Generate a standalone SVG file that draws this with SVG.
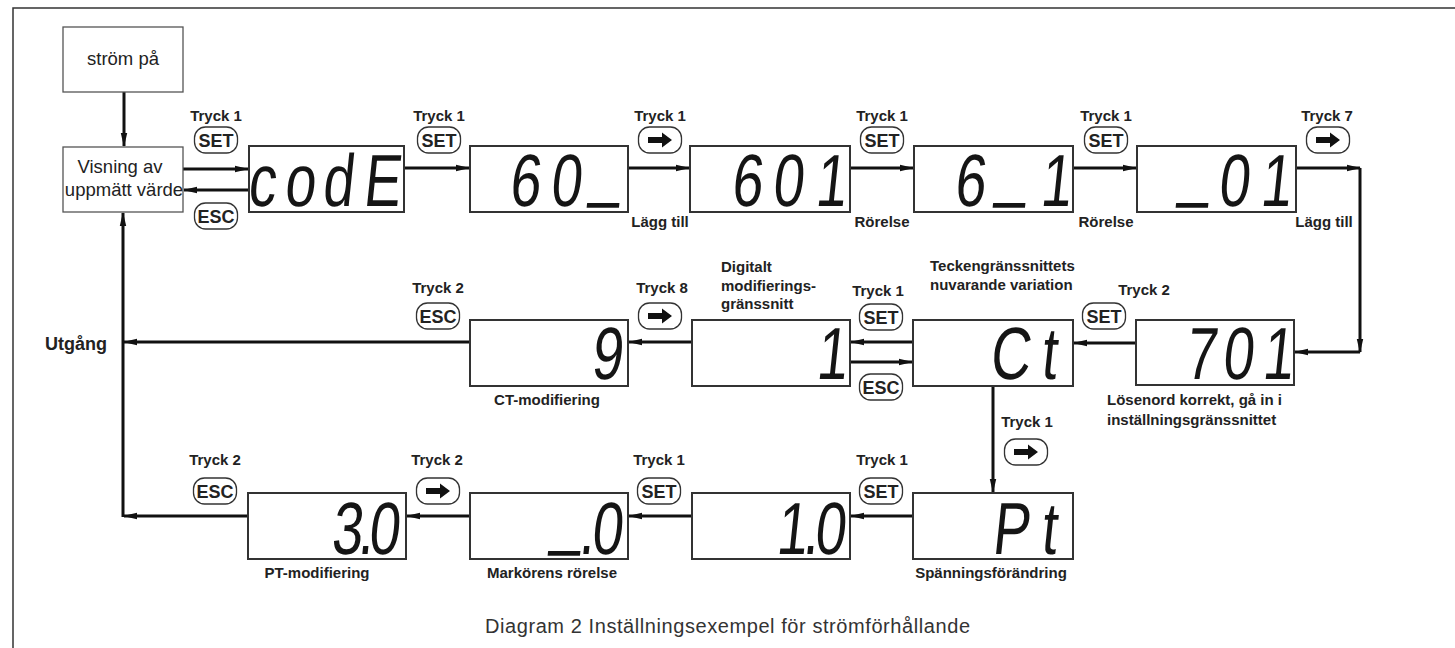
<svg xmlns="http://www.w3.org/2000/svg" xmlns:xlink="http://www.w3.org/1999/xlink" width="1455" height="648" viewBox="0 0 1455 648">
<style>
.frame{fill:none;stroke:#333;stroke-width:1.5}
.box{fill:#fff;stroke:#555;stroke-width:1.3}
.disp{fill:#fff;stroke:#333;stroke-width:2}
.btn{fill:#fff;stroke:#333;stroke-width:1.3}
.ln{fill:none;stroke:#111;stroke-width:3}
.t{font-family:"Liberation Sans",Arial,sans-serif;font-weight:bold;font-size:15px;fill:#222}
.m{text-anchor:middle}
.bt{font-family:"Liberation Sans",Arial,sans-serif;font-weight:bold;font-size:18px;fill:#222;text-anchor:middle}
.r{font-family:"Liberation Sans",Arial,sans-serif;font-size:18.5px;fill:#222}
.u{font-family:"Liberation Sans",Arial,sans-serif;font-weight:bold;font-size:18px;fill:#222}
.cap{font-family:"Liberation Sans",Arial,sans-serif;font-size:20px;fill:#333}
.lcd{font-family:"Liberation Sans",Arial,sans-serif;font-size:74px;fill:#151515;text-anchor:middle}
</style>
<defs>
<marker id="ah" viewBox="0 0 14 8" markerWidth="14" markerHeight="8" refX="13" refY="4" orient="auto" markerUnits="userSpaceOnUse">
<path d="M0,0.8 L14,4 L0,7.2 Z" fill="#111"/>
</marker>
<g id="b">
<rect class="btn" x="-21.5" y="-13" width="43" height="26" rx="11"/>
</g>
<g id="arr">
<rect class="btn" x="-21.5" y="-13" width="43" height="26" rx="11"/>
<path d="M-12,-3 H2 V-7.5 L12,0 L2,7.5 V3 H-12 Z" fill="#111"/>
</g>
</defs>

<path class="frame" d="M13,648 V8 H1455"/>

<g id="connectors">
<path class="ln" d="M124,92 V146" marker-end="url(#ah)"/>
<path class="ln" d="M183,169 H248" marker-end="url(#ah)"/>
<path class="ln" d="M249,190 H184" marker-end="url(#ah)"/>
<path class="ln" d="M404,168 H469" marker-end="url(#ah)"/>
<path class="ln" d="M628,168 H689" marker-end="url(#ah)"/>
<path class="ln" d="M850,168 H913" marker-end="url(#ah)"/>
<path class="ln" d="M1073,168 H1136" marker-end="url(#ah)"/>
<path class="ln" d="M1296,168 H1360" marker-end="url(#ah)"/>
<path class="ln" d="M1360,168 V352" marker-end="url(#ah)"/>
<path class="ln" d="M1360,352 H1295" marker-end="url(#ah)"/>
<path class="ln" d="M1136,343 H1074" marker-end="url(#ah)"/>
<path class="ln" d="M913,342 H851" marker-end="url(#ah)"/>
<path class="ln" d="M850,362 H912" marker-end="url(#ah)"/>
<path class="ln" d="M692,342 H629" marker-end="url(#ah)"/>
<path class="ln" d="M470,342 H124" marker-end="url(#ah)"/>
<path class="ln" d="M993,386 V492" marker-end="url(#ah)"/>
<path class="ln" d="M913,516 H851" marker-end="url(#ah)"/>
<path class="ln" d="M692,516 H629" marker-end="url(#ah)"/>
<path class="ln" d="M470,516 H407" marker-end="url(#ah)"/>
<path class="ln" d="M248,516 H124" marker-end="url(#ah)"/>
<path class="ln" d="M123,517 V213" marker-end="url(#ah)"/>
</g>

<g id="n-power">
<rect class="box" x="63" y="27" width="120" height="65"/>
<text class="r m" x="123" y="65">ström på</text>
</g>
<g id="n-measure">
<rect class="box" x="63" y="147" width="120" height="65"/>
<text class="r m" x="120" y="173">Visning av</text>
<text class="r m" x="124" y="196">uppmätt värde</text>
</g>
<g id="n-code">
<rect class="disp" x="249" y="146" width="155" height="66"/>
<text class="lcd" transform="translate(0 206) skewX(-6) scale(0.75 1)" x="348 398.7 449.3 508" y="0">codE</text>
</g>
<g id="n-60">
<rect class="disp" x="470" y="146" width="158" height="66"/>
<text class="lcd" transform="translate(0 206) skewX(-6) scale(0.75 1)" x="698.7 753.3 804" y="0 0 -13">60_</text>
</g>
<g id="n-601">
<rect class="disp" x="690" y="146" width="160" height="66"/>
<text class="lcd" transform="translate(0 206) skewX(-6) scale(0.75 1)" x="994.7 1049.3 1106.7" y="0">601</text>
</g>
<g id="n-6_1">
<rect class="disp" x="914" y="146" width="159" height="66"/>
<text class="lcd" transform="translate(0 206) skewX(-6) scale(0.75 1)" x="1292 1345.3 1406.7" y="0 -13 0">6_1</text>
</g>
<g id="n-_01">
<rect class="disp" x="1137" y="146" width="159" height="66"/>
<text class="lcd" transform="translate(0 206) skewX(-6) scale(0.75 1)" x="1589.3 1644 1700" y="-13 0 0">_01</text>
</g>
<g id="n-701">
<rect class="disp" x="1136" y="320" width="158" height="65"/>
<text class="lcd" transform="translate(0 379) skewX(-6) scale(0.75 1)" x="1600 1649.3 1702.7" y="0">701</text>
</g>
<g id="n-ct">
<rect class="disp" x="913" y="320" width="160" height="66"/>
<text class="lcd" transform="translate(0 379) skewX(-6) scale(0.75 1)" x="1345.3 1397.3" y="0">Ct</text>
</g>
<g id="n-1">
<rect class="disp" x="692" y="320" width="158" height="66"/>
<text class="lcd" transform="translate(0 379) skewX(-6) scale(0.75 1)" x="1108" y="0">1</text>
</g>
<g id="n-9">
<rect class="disp" x="470" y="320" width="158" height="66"/>
<text class="lcd" transform="translate(0 379) skewX(-6) scale(0.75 1)" x="808" y="0">9</text>
</g>
<g id="n-pt">
<rect class="disp" x="913" y="493" width="160" height="66"/>
<text class="lcd" transform="translate(0 554) skewX(-6) scale(0.75 1)" x="1346.7 1397.3" y="0">Pt</text>
</g>
<g id="n-1.0">
<rect class="disp" x="692" y="493" width="158" height="66"/>
<text class="lcd" transform="translate(0 554) skewX(-6) scale(0.75 1)" x="1054.7 1080 1105.3" y="0">1.0</text>
</g>
<g id="n-_.0">
<rect class="disp" x="470" y="493" width="158" height="66"/>
<text class="lcd" transform="translate(0 554) skewX(-6) scale(0.75 1)" x="752 781.3 808" y="-13 0 0">_.0</text>
</g>
<g id="n-3.0">
<rect class="disp" x="248" y="493" width="158" height="66"/>
<text class="lcd" transform="translate(0 554) skewX(-6) scale(0.75 1)" x="461.3 486.7 510.7" y="0">3.0</text>
</g>

<g id="buttons">
<text class="t m" x="216" y="121">Tryck 1</text>
<use xlink:href="#b" x="216" y="140"/><text class="bt" x="216" y="146.5">SET</text>
<use xlink:href="#b" x="216" y="216"/><text class="bt" x="216" y="222.5">ESC</text>

<text class="t m" x="439" y="121">Tryck 1</text>
<use xlink:href="#b" x="439" y="140"/><text class="bt" x="439" y="146.5">SET</text>

<text class="t m" x="660" y="121">Tryck 1</text>
<use xlink:href="#arr" x="660" y="140"/>

<text class="t m" x="882" y="121">Tryck 1</text>
<use xlink:href="#b" x="882" y="140"/><text class="bt" x="882" y="146.5">SET</text>

<text class="t m" x="1106" y="121">Tryck 1</text>
<use xlink:href="#b" x="1106" y="140"/><text class="bt" x="1106" y="146.5">SET</text>

<text class="t m" x="1327" y="121">Tryck 7</text>
<use xlink:href="#arr" x="1328" y="140"/>

<text class="t m" x="438" y="293">Tryck 2</text>
<use xlink:href="#b" x="438" y="316"/><text class="bt" x="438" y="322.5">ESC</text>

<text class="t m" x="662" y="293">Tryck 8</text>
<use xlink:href="#arr" x="660" y="316"/>

<text class="t m" x="878" y="296">Tryck 1</text>
<use xlink:href="#b" x="881" y="317"/><text class="bt" x="881" y="323.5">SET</text>
<use xlink:href="#b" x="881" y="387"/><text class="bt" x="881" y="393.5">ESC</text>

<text class="t m" x="1144" y="295">Tryck 2</text>
<use xlink:href="#b" x="1104" y="316"/><text class="bt" x="1104" y="322.5">SET</text>

<text class="t m" x="1027" y="427">Tryck 1</text>
<use xlink:href="#arr" x="1026" y="452"/>

<text class="t m" x="215" y="465">Tryck 2</text>
<use xlink:href="#b" x="215" y="491"/><text class="bt" x="215" y="497.5">ESC</text>

<text class="t m" x="437" y="465">Tryck 2</text>
<use xlink:href="#arr" x="438" y="491"/>

<text class="t m" x="659" y="465">Tryck 1</text>
<use xlink:href="#b" x="659" y="491"/><text class="bt" x="659" y="497.5">SET</text>

<text class="t m" x="882" y="465">Tryck 1</text>
<use xlink:href="#b" x="881" y="491"/><text class="bt" x="881" y="497.5">SET</text>
</g>

<g id="labels">
<text class="t m" x="660" y="227">Lägg till</text>
<text class="t m" x="882" y="227">Rörelse</text>
<text class="t m" x="1106" y="227">Rörelse</text>
<text class="t m" x="1324" y="227">Lägg till</text>
<text class="t" x="721" y="272">Digitalt</text>
<text class="t" x="721" y="291">modifierings-</text>
<text class="t" x="721" y="309">gränssnitt</text>
<text class="t" x="930" y="271">Teckengränssnittets</text>
<text class="t" x="930" y="290">nuvarande variation</text>
<text class="t m" x="547" y="405">CT-modifiering</text>
<text class="t" x="1107" y="405">Lösenord korrekt, gå in i</text>
<text class="t" x="1107" y="425">inställningsgränssnittet</text>
<text class="t m" x="317" y="578">PT-modifiering</text>
<text class="t m" x="552" y="578">Markörens rörelse</text>
<text class="t m" x="991" y="578">Spänningsförändring</text>
<text class="u" x="45" y="350">Utgång</text>
<text class="cap" x="485" y="633" textLength="485" lengthAdjust="spacing">Diagram 2 Inställningsexempel för strömförhållande</text>
</g>
</svg>
